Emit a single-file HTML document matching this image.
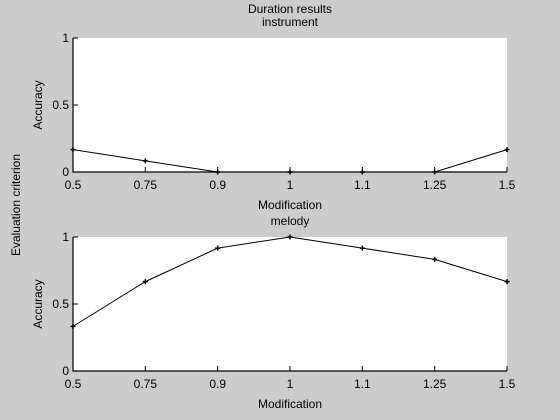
<!DOCTYPE html>
<html><head><meta charset="utf-8"><style>
html,body{margin:0;padding:0;background:#ccc;}
svg{display:block;font-family:"Liberation Sans",sans-serif;font-size:12px;}
</style></head><body>
<svg id="c" width="560" height="420" viewBox="0 0 560 420" xmlns="http://www.w3.org/2000/svg">
<rect width="560" height="420" fill="#ccc"/>
<text x="290" y="13" text-anchor="middle">Duration results</text>
<text transform="translate(20,205) rotate(-90)" text-anchor="middle">Evaluation criterion</text>
<g id="plots"></g>
</svg>
<script>
const categories = ["0.5","0.75","0.9","1","1.1","1.25","1.5"];
const instrumentValues = [0.167,0.083,0,0,0,0,0.167];
const melodyValues = [0.333,0.667,0.917,1,0.917,0.833,0.667];
const yTicks = [0,0.5,1];
const yTickLabels = ["0","0.5","1"];
const subplotTitles = ["instrument","melody"];

const NS="http://www.w3.org/2000/svg";
const g=document.getElementById('plots');
function mk(t,a,p){const e=document.createElementNS(NS,t);for(const k in a)e.setAttribute(k,a[k]);(p||g).appendChild(e);return e;}
function drawPlot(top,bottom,vals,title,idx){
  const L=73,R=507;
  const x=i=>L+(R-L)*i/(categories.length-1);
  const y=v=>bottom-(bottom-top)*v;
  const grp=mk('g',{});
  
  
  const bg=mk('rect',{x:L,y:top,width:R-L,height:bottom-top,fill:'#fff'},grp);
  
  
  const t=mk('text',{x:(L+R)/2,y:top-12,'text-anchor':'middle'},grp);t.textContent=title;
  
  
  const ax=mk('path',{d:`M${L},${top}V${bottom}H${R}`,stroke:'#000',fill:'none','stroke-width':1.2},grp);
  
  
  yTicks.forEach((v,i)=>{
    mk('line',{x1:L,x2:L+5,y1:y(v),y2:y(v),stroke:'#000'},grp);
    const tl=mk('text',{x:L-4,y:y(v)+4,'text-anchor':'end'},grp);tl.textContent=yTickLabels[i];
    
    
  });
  categories.forEach((c,i)=>{
    mk('line',{x1:x(i),x2:x(i),y1:bottom,y2:bottom-5,stroke:'#000'},grp);
    const tl=mk('text',{x:x(i),y:bottom+17,'text-anchor':'middle'},grp);tl.textContent=c;
    
    
  });
  const xl=mk('text',{x:(L+R)/2,y:bottom+37,'text-anchor':'middle'},grp);xl.textContent='Modification';
  
  
  const yl=mk('text',{transform:`translate(42,${(top+bottom)/2}) rotate(-90)`,'text-anchor':'middle'},grp);yl.textContent='Accuracy';
  
  
  const line=mk('polyline',{points:vals.map((v,i)=>x(i)+','+y(v)).join(' '),fill:'none',stroke:'#000','stroke-width':1},grp);
  
  
  vals.forEach((v,i)=>{
    const m=mk('path',{d:`M${x(i)-2.5},${y(v)}h5M${x(i)},${y(v)-2.5}v5`,stroke:'#000','stroke-width':1.5},grp);
    
    
  });
}
drawPlot(38,172,instrumentValues,subplotTitles[0],0);
drawPlot(237,371,melodyValues,subplotTitles[1],1);
</script>
</body></html>
